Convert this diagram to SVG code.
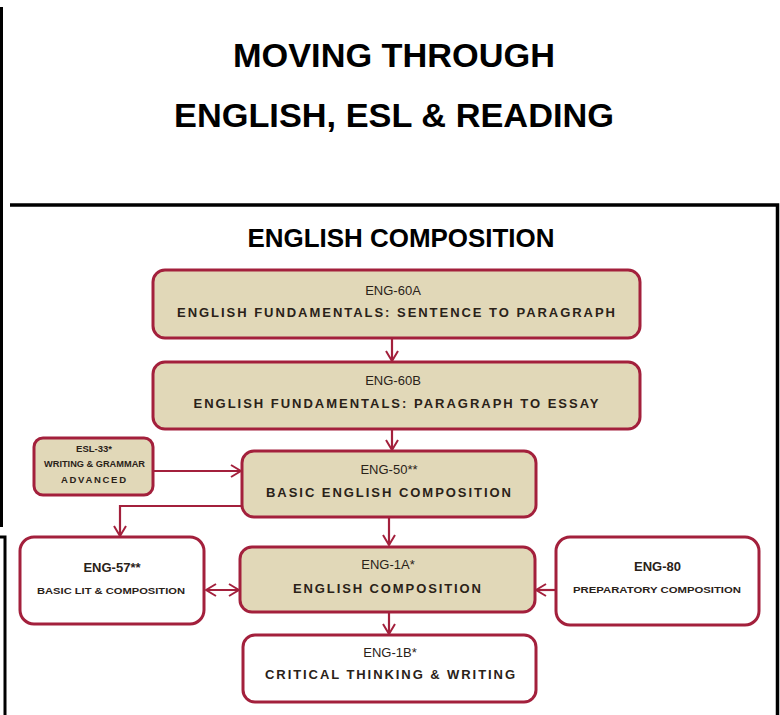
<svg xmlns="http://www.w3.org/2000/svg" width="780" height="715" viewBox="0 0 780 715">
<style>
.box{stroke:#a3203c;stroke-width:3}
.tan{fill:#e1d8b8}
.wht{fill:#ffffff}
.code{font-family:"Liberation Sans",Arial,sans-serif;font-size:13px;fill:#2a2218;text-anchor:middle}
.sub{font-family:"Liberation Sans",Arial,sans-serif;font-size:13px;font-weight:bold;fill:#2a2218;text-anchor:middle}
.small{font-family:"Liberation Sans",Arial,sans-serif;font-size:9.5px;font-weight:bold;fill:#2a2218;text-anchor:middle}
.title{font-family:"Liberation Sans",Arial,sans-serif;font-weight:bold;fill:#000;text-anchor:middle}
.conn{stroke:#a3203c;stroke-width:2.2;fill:none}
.frame{stroke:#000;fill:none}
</style>
<defs>
<marker id="arr" viewBox="0 0 12 14" refX="11" refY="7" markerWidth="12" markerHeight="14" markerUnits="userSpaceOnUse" orient="auto-start-reverse">
<path d="M1,1 L11,7 L1,13" fill="none" stroke="#a3203c" stroke-width="2"/>
</marker>
</defs>
<rect width="780" height="715" fill="#fff"/>
<g id="frame">
<line class="frame" x1="1.5" y1="7" x2="1.5" y2="527" stroke-width="3"/>
<path class="frame" d="M0,537 H5 V715" stroke-width="3"/>
<path class="frame" d="M10,205 H777.5 V715" stroke-width="3.5"/>
</g>
<g id="titles">
<text class="title" x="394" y="67" font-size="33" textLength="322" lengthAdjust="spacingAndGlyphs">MOVING THROUGH</text>
<text class="title" x="394" y="127" font-size="33" textLength="440" lengthAdjust="spacingAndGlyphs">ENGLISH, ESL &amp; READING</text>
<text class="title" x="401" y="247" font-size="25" textLength="307" lengthAdjust="spacingAndGlyphs">ENGLISH COMPOSITION</text>
</g>
<g id="connectors">
<line class="conn" x1="392" y1="339" x2="392" y2="361" marker-end="url(#arr)"/>
<line class="conn" x1="392" y1="430" x2="392" y2="450" marker-end="url(#arr)"/>
<line class="conn" x1="154" y1="471" x2="241" y2="471" marker-end="url(#arr)"/>
<path class="conn" d="M242,506 H120 V536" marker-end="url(#arr)"/>
<line class="conn" x1="389" y1="518" x2="389" y2="545" marker-end="url(#arr)"/>
<line class="conn" x1="206" y1="590" x2="239" y2="590" marker-start="url(#arr)" marker-end="url(#arr)"/>
<line class="conn" x1="555" y1="590" x2="536" y2="590" marker-end="url(#arr)"/>
<line class="conn" x1="389" y1="613" x2="389" y2="634" marker-end="url(#arr)"/>
</g>
<g id="eng60a">
<rect class="box tan" x="153" y="270" width="487" height="68" rx="12"/>
<text class="code" x="393" y="295">ENG-60A</text>
<text class="sub" x="396" y="317" textLength="438" lengthAdjust="spacing">ENGLISH FUNDAMENTALS: SENTENCE TO PARAGRAPH</text>
</g>
<g id="eng60b">
<rect class="box tan" x="153" y="362" width="487" height="67" rx="12"/>
<text class="code" x="393" y="385">ENG-60B</text>
<text class="sub" x="396" y="408" textLength="405" lengthAdjust="spacing">ENGLISH FUNDAMENTALS: PARAGRAPH TO ESSAY</text>
</g>
<g id="esl33">
<rect class="box tan" x="34" y="438" width="119" height="57" rx="9"/>
<text class="small" x="94" y="452" font-size="8.5">ESL-33*</text>
<text class="small" x="94.5" y="467" textLength="101" lengthAdjust="spacingAndGlyphs">WRITING &amp; GRAMMAR</text>
<text class="small" x="93.5" y="483" font-size="8.5" textLength="65" lengthAdjust="spacing">ADVANCED</text>
</g>
<g id="eng50">
<rect class="box tan" x="242" y="451" width="294" height="66" rx="12"/>
<text class="code" x="389" y="474">ENG-50**</text>
<text class="sub" x="388.5" y="497" textLength="245" lengthAdjust="spacing">BASIC ENGLISH COMPOSITION</text>
</g>
<g id="eng57">
<rect class="box wht" x="20" y="537" width="184" height="87" rx="14"/>
<text class="code" x="112" y="572" font-weight="bold">ENG-57**</text>
<text class="small" x="111" y="594" textLength="148" lengthAdjust="spacingAndGlyphs">BASIC LIT &amp; COMPOSITION</text>
</g>
<g id="eng1a">
<rect class="box tan" x="240" y="547" width="295" height="65" rx="12"/>
<text class="code" x="388" y="569">ENG-1A*</text>
<text class="sub" x="387" y="593" textLength="188" lengthAdjust="spacing">ENGLISH COMPOSITION</text>
</g>
<g id="eng80">
<rect class="box wht" x="556" y="537" width="203" height="88" rx="14"/>
<text class="code" x="657.5" y="571" font-weight="bold">ENG-80</text>
<text class="small" x="657" y="593" textLength="168" lengthAdjust="spacingAndGlyphs">PREPARATORY COMPOSITION</text>
</g>
<g id="eng1b">
<rect class="box wht" x="243" y="635" width="293" height="67" rx="12"/>
<text class="code" x="390" y="657">ENG-1B*</text>
<text class="sub" x="390" y="679" textLength="250" lengthAdjust="spacing">CRITICAL THINKING &amp; WRITING</text>
</g>
</svg>
